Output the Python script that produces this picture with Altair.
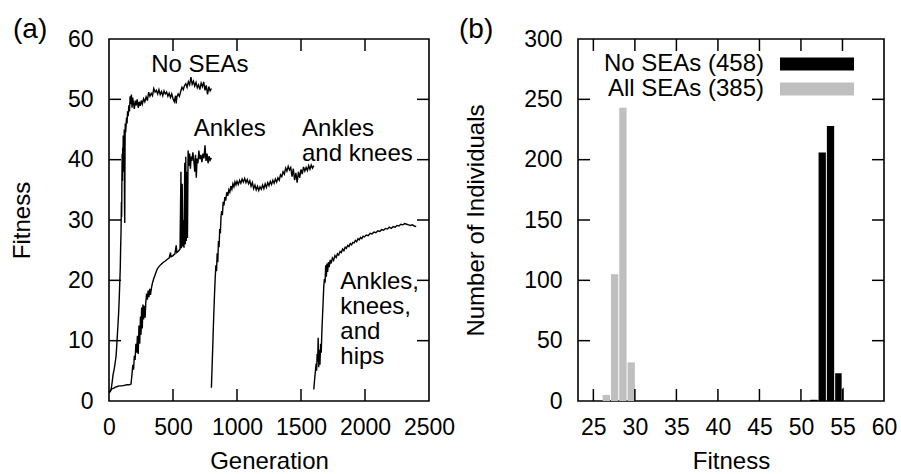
import altair as alt
import pandas as pd

FONT = "Liberation Sans"
GRAY = "#bfbfbf"
W_A, W_B, H = 320, 306, 362
TICK = 12

# ---------------- (a) best fitness per generation, one run per morphology ----------------
run1_gen = [0, 8, 16, 24, 32, 40, 48, 55, 60, 65, 70, 75, 80, 84, 88, 91, 94, 97, 99, 101,
            103, 105, 107, 109, 111, 113, 115, 117, 119, 121, 123, 125, 127, 130, 133, 137, 141, 145, 150, 155,
            160, 165, 170, 175, 180, 185, 190, 198, 205, 212, 220, 228, 236, 244, 252, 260, 270, 280, 290, 300,
            310, 320, 330, 340, 350, 360, 370, 380, 390, 400, 410, 420, 430, 440, 450, 460, 470, 480, 490, 500,
            510, 520, 525, 530, 540, 550, 560, 570, 580, 590, 600, 610, 620, 630, 640, 650, 660, 670, 680, 690,
            700, 710, 720, 730, 740, 750, 760, 770, 780, 790, 800]
run1_fit = [1.4, 1.5, 1.8, 3.0, 4.4, 5.2, 6.3, 7.4, 9.0, 10.8, 12.6, 14.5, 17.0, 19.5, 22.0, 25.5, 28.0, 33.0, 30.5, 37.0,
            41.0, 36.5, 42.0, 39.0, 44.0, 40.5, 43.5, 38.0, 45.0, 33.0, 29.5, 41.0, 46.0, 44.5, 45.5, 47.0, 46.0, 48.0, 47.2, 49.0,
            48.0, 50.5, 49.2, 50.8, 48.6, 50.3, 49.5, 48.4, 49.8, 49.0, 50.0, 48.6, 49.6, 48.9, 49.8, 49.2, 50.1, 49.6, 50.4, 49.8,
            51.2, 50.5, 51.0, 50.6, 51.8, 51.2, 51.5, 50.9, 51.6, 50.8, 51.3, 50.6, 51.4, 50.9, 51.2, 50.5, 51.0, 50.3, 50.9, 50.1,
            49.6, 50.6, 49.3, 50.4, 50.9, 50.5, 51.3, 52.0, 51.6, 52.3, 52.6, 52.0, 52.9, 52.4, 53.7, 52.5, 53.0, 52.2, 52.8, 51.9,
            52.4, 51.6, 52.7, 52.1, 52.9, 51.5, 52.3, 50.8, 52.1, 51.4, 51.8]

run2_gen = [0, 10, 20, 35, 50, 65, 80, 100, 120, 140, 160, 172, 180, 186, 192, 198, 204, 210, 216, 222,
            228, 234, 240, 246, 250, 255, 260, 265, 270, 276, 282, 288, 294, 300, 306, 312, 318, 324, 332, 340,
            350, 360, 370, 380, 395, 410, 425, 440, 455, 470, 480, 485, 500, 515, 525, 530, 545, 555, 562, 566,
            572, 576, 582, 586, 592, 596, 600, 604, 609, 613, 618, 624, 630, 636, 642, 648, 655, 662, 670, 676,
            682, 688, 695, 702, 710, 718, 726, 734, 742, 750, 758, 766, 774, 782, 790, 800]
run2_fit = [1.5, 1.7, 2.0, 2.1, 2.3, 2.4, 2.5, 2.5, 2.6, 2.7, 2.7, 2.8, 4.5, 6.0, 5.2, 7.5, 6.8, 9.5, 8.0, 10.8,
            7.8, 12.5, 9.5, 14.0, 11.0, 15.5, 12.0, 16.0, 13.5, 15.8, 13.8, 16.5, 17.8, 16.8, 18.3, 17.2, 18.6, 17.6, 18.8, 19.6,
            20.3, 20.9, 21.5, 22.0, 22.4, 22.7, 23.0, 23.2, 23.5, 23.7, 24.6, 23.9, 24.1, 24.4, 25.8, 24.6, 24.9, 25.2, 38.0, 25.3,
            36.0, 25.6, 30.0, 25.4, 39.5, 26.0, 40.5, 26.5, 38.0, 27.0, 41.5, 39.0, 41.0, 38.5, 40.5, 39.8, 41.2, 40.0, 38.0, 40.8,
            37.0, 40.2, 39.4, 41.5, 40.1, 40.8, 39.6, 41.0, 40.2, 42.4, 39.8, 41.0, 39.4, 40.6, 39.9, 40.3]

run3_gen = [800, 806, 812, 818, 824, 830, 835, 840, 845, 850, 855, 860, 865, 870, 875, 880, 886, 892, 898, 905,
            912, 920, 928, 936, 944, 952, 960, 968, 976, 984, 992, 1000, 1010, 1020, 1030, 1040, 1050, 1060, 1070, 1080,
            1090, 1100, 1110, 1120, 1130, 1140, 1150, 1160, 1170, 1180, 1190, 1200, 1210, 1220, 1230, 1240, 1250, 1260, 1270, 1280,
            1290, 1300, 1310, 1320, 1330, 1340, 1350, 1360, 1370, 1380, 1390, 1400, 1410, 1420, 1430, 1440, 1450, 1460, 1470, 1480,
            1490, 1500, 1510, 1520, 1530, 1540, 1550, 1560, 1570, 1580, 1590, 1600]
run3_fit = [2.2, 6.0, 10.0, 14.0, 17.5, 20.5, 22.5, 21.5, 24.5, 23.0, 26.5, 25.5, 28.5, 27.8, 30.5, 31.5, 30.8, 33.0, 32.4, 33.8,
            33.2, 34.6, 34.0, 35.0, 34.6, 35.6, 35.1, 36.0, 35.5, 36.3, 35.8, 36.4, 35.9, 36.6, 36.1, 36.8, 36.3, 36.9, 36.2, 36.7,
            36.0, 36.5, 35.6, 36.2, 35.2, 35.8, 35.0, 35.6, 34.9, 35.5, 35.1, 35.8, 35.2, 36.0, 35.4, 36.2, 35.7, 36.4, 35.9, 36.6,
            36.1, 36.8, 36.3, 37.0, 36.6, 37.5, 37.2, 38.0, 37.6, 38.6, 38.1, 38.9, 38.3, 38.7, 37.2, 38.5, 36.6, 37.8, 36.2, 38.0,
            37.0, 38.4, 37.6, 38.8, 38.1, 38.7, 38.2, 39.0, 38.4, 39.1, 38.6, 39.0]

run4_gen = [1600, 1606, 1612, 1618, 1622, 1626, 1630, 1634, 1638, 1643, 1648, 1653, 1658, 1663, 1668, 1673, 1678, 1683, 1688, 1693,
            1698, 1703, 1708, 1714, 1720, 1728, 1736, 1745, 1755, 1765, 1775, 1785, 1795, 1805, 1815, 1825, 1835, 1845, 1855, 1865,
            1875, 1885, 1895, 1905, 1915, 1925, 1935, 1945, 1955, 1965, 1975, 1985, 1995, 2010, 2025, 2040, 2055, 2070, 2085, 2100,
            2115, 2130, 2145, 2160, 2175, 2190, 2205, 2220, 2235, 2250, 2265, 2280, 2295, 2310, 2325, 2340, 2355, 2370, 2385, 2400]
run4_fit = [1.9, 3.5, 4.8, 6.2, 5.0, 7.8, 6.5, 10.5, 5.6, 8.5, 6.0, 9.5, 8.0, 11.5, 14.0, 16.5, 19.0, 20.2, 19.6, 22.5,
            20.6, 22.8, 21.4, 23.0, 22.2, 23.4, 22.8, 23.7, 23.3, 24.1, 23.8, 24.4, 24.2, 24.8, 24.6, 25.2, 24.9, 25.5, 25.3, 25.8,
            25.6, 26.1, 25.9, 26.3, 26.2, 26.6, 26.4, 26.9, 26.7, 27.1, 26.9, 27.3, 27.2, 27.5, 27.4, 27.8, 27.7, 28.0, 27.9, 28.2,
            28.1, 28.4, 28.3, 28.6, 28.5, 28.8, 28.6, 28.9, 28.8, 29.1, 29.0, 29.3, 29.2, 29.4, 29.3, 29.2, 29.1, 29.2, 29.0, 28.9]

run_names = ["No SEAs", "Ankles", "Ankles and knees", "Ankles, knees, and hips"]

# in-plot labels for the runs
note_text = ["No SEAs", "Ankles", "Ankles", "and knees", "Ankles,", "knees,", "and", "hips"]
note_gen = [330, 662, 1508, 1508, 1807, 1807, 1807, 1807]
note_fit = [54.6, 43.9, 43.9, 39.8, 18.5, 14.4, 10.3, 6.2]

gen_ticks = [0, 500, 1000, 1500, 2000, 2500]
fit_ticks = [0, 10, 20, 30, 40, 50, 60]

# ---------------- (b) histogram of final fitness ----------------
none_lo = [51, 52, 53, 54, 54.9]
none_hi = [52, 53, 54, 54.9, 55.15]
none_n = [1, 206, 228, 23, 11]
all_lo = [26, 27, 28, 29]
all_hi = [27, 28, 29, 30]
all_n = [5, 105, 243, 32]

legend_labels = ["No SEAs (458)", "All SEAs (385)"]
legend_colors = ["black", GRAY]

fx_ticks = [25, 30, 35, 40, 45, 50, 55, 60]
cnt_ticks = [0, 50, 100, 150, 200, 250, 300]

# ---------------- shared styling ----------------
axis_style = dict(domain=False, ticks=False, tickSize=0, grid=False, format="d",
                  labelFont=FONT, labelFontSize=23, labelColor="black",
                  labelFlush=False, labelOverlap=False,
                  titleFont=FONT, titleFontSize=24, titleFontWeight="normal", titleColor="black")


def x_axis(values, title):
    # titleY is measured from the bottom edge of the plot
    return alt.Axis(values=values, title=title, labelBaseline="alphabetic", labelPadding=33,
                    titleBaseline="alphabetic", titleY=67, **axis_style)


def y_axis(values, title, title_x):
    return alt.Axis(values=values, title=title, labelBaseline="middle", labelPadding=16,
                    titleX=title_x, titleBaseline="middle", **axis_style)


def inner_ticks(xvals, yvals, xscale, yscale, xaxis, yaxis, w, h):
    """Mirrored inward tick marks on all four sides of a panel."""
    xdf = pd.DataFrame({"v": xvals})
    ydf = pd.DataFrame({"v": yvals})
    style = dict(color="black", strokeWidth=1.5)
    xenc = alt.X("v:Q", scale=xscale, axis=xaxis)
    yenc = alt.Y("v:Q", scale=yscale, axis=yaxis)
    return [
        alt.Chart(xdf).mark_rule(**style).encode(x=xenc, y=alt.value(h), y2=alt.value(h - TICK)),
        alt.Chart(xdf).mark_rule(**style).encode(x=xenc, y=alt.value(0), y2=alt.value(TICK)),
        alt.Chart(ydf).mark_rule(**style).encode(y=yenc, x=alt.value(0), x2=alt.value(TICK)),
        alt.Chart(ydf).mark_rule(**style).encode(y=yenc, x=alt.value(w), x2=alt.value(w - TICK)),
    ]


def panel_tag(text, x):
    return alt.Chart(pd.DataFrame({"t": [text]})).mark_text(
        font=FONT, fontSize=28, align="left", baseline="alphabetic", color="black"
    ).encode(text="t:N", x=alt.value(x), y=alt.value(-1))


# ---------------- panel (a) ----------------
runs = pd.concat([
    pd.DataFrame({"run": name, "gen": g, "fit": f})
    for name, g, f in zip(run_names,
                          [run1_gen, run2_gen, run3_gen, run4_gen],
                          [run1_fit, run2_fit, run3_fit, run4_fit])
], ignore_index=True)

gen_scale = alt.Scale(domain=[0, 2500], nice=False, zero=False)
fit_scale = alt.Scale(domain=[0, 60], nice=False)
gen_axis = x_axis(gen_ticks, "Generation")
fit_axis = y_axis(fit_ticks, "Fitness", -87)

traces = alt.Chart(runs).mark_line(color="black", strokeWidth=1.4).encode(
    x=alt.X("gen:Q", scale=gen_scale, axis=gen_axis),
    y=alt.Y("fit:Q", scale=fit_scale, axis=fit_axis),
    detail="run:N",
)

notes = alt.Chart(pd.DataFrame({"t": note_text, "gen": note_gen, "fit": note_fit})).mark_text(
    font=FONT, fontSize=24, align="left", baseline="alphabetic", color="black"
).encode(
    x=alt.X("gen:Q", scale=gen_scale, axis=gen_axis),
    y=alt.Y("fit:Q", scale=fit_scale, axis=fit_axis),
    text="t:N",
)

panel_a = alt.layer(
    traces, notes,
    *inner_ticks(gen_ticks[1:-1], fit_ticks[1:-1], gen_scale, fit_scale, gen_axis, fit_axis, W_A, H),
    panel_tag("(a)", -96),
).properties(width=W_A, height=H)

# ---------------- panel (b) ----------------
fx_scale = alt.Scale(domain=[23.15, 60], nice=False, zero=False)
cnt_scale = alt.Scale(domain=[0, 300], nice=False)
fx_axis = x_axis(fx_ticks, "Fitness")
cnt_axis = y_axis(cnt_ticks, "Number of Individuals", -102)

df_all = pd.DataFrame({"lo": all_lo, "hi": all_hi, "n": all_n})
df_none = pd.DataFrame({"lo": none_lo, "hi": none_hi, "n": none_n})

bars_all = alt.Chart(df_all).mark_bar(color=GRAY, binSpacing=1).encode(
    x=alt.X("lo:Q", bin="binned", scale=fx_scale, axis=fx_axis),
    x2="hi:Q",
    y=alt.Y("n:Q", scale=cnt_scale, axis=cnt_axis),
)
bars_none = alt.Chart(df_none).mark_bar(color="black", binSpacing=1).encode(
    x=alt.X("lo:Q", bin="binned", scale=fx_scale, axis=fx_axis),
    x2="hi:Q",
    y=alt.Y("n:Q", scale=cnt_scale, axis=cnt_axis),
)

legend_layers = []
for i, (label, colour) in enumerate(zip(legend_labels, legend_colors)):
    row = pd.DataFrame({"t": [label]})
    legend_layers.append(
        alt.Chart(row).mark_text(font=FONT, fontSize=24, align="right", baseline="middle", color="black")
        .encode(text="t:N", x=alt.value(186), y=alt.value(25 + 25 * i))
    )
    legend_layers.append(
        alt.Chart(row).mark_rule(color=colour, strokeWidth=13)
        .encode(x=alt.value(202), x2=alt.value(276), y=alt.value(25 + 25 * i))
    )

panel_b = alt.layer(
    bars_all, bars_none,
    *inner_ticks(fx_ticks[:-1], cnt_ticks[1:-1], fx_scale, cnt_scale, fx_axis, cnt_axis, W_B, H),
    *legend_layers,
    panel_tag("(b)", -119),
).properties(width=W_B, height=H)

chart = alt.hconcat(panel_a, panel_b, spacing=149, bounds="flush").properties(
    padding={"left": 9, "top": 15, "right": 3, "bottom": 0}
).configure(font=FONT).configure_view(stroke="black", strokeWidth=1.6)

chart.save("out.html", embed_options={"renderer": "svg", "actions": False})
